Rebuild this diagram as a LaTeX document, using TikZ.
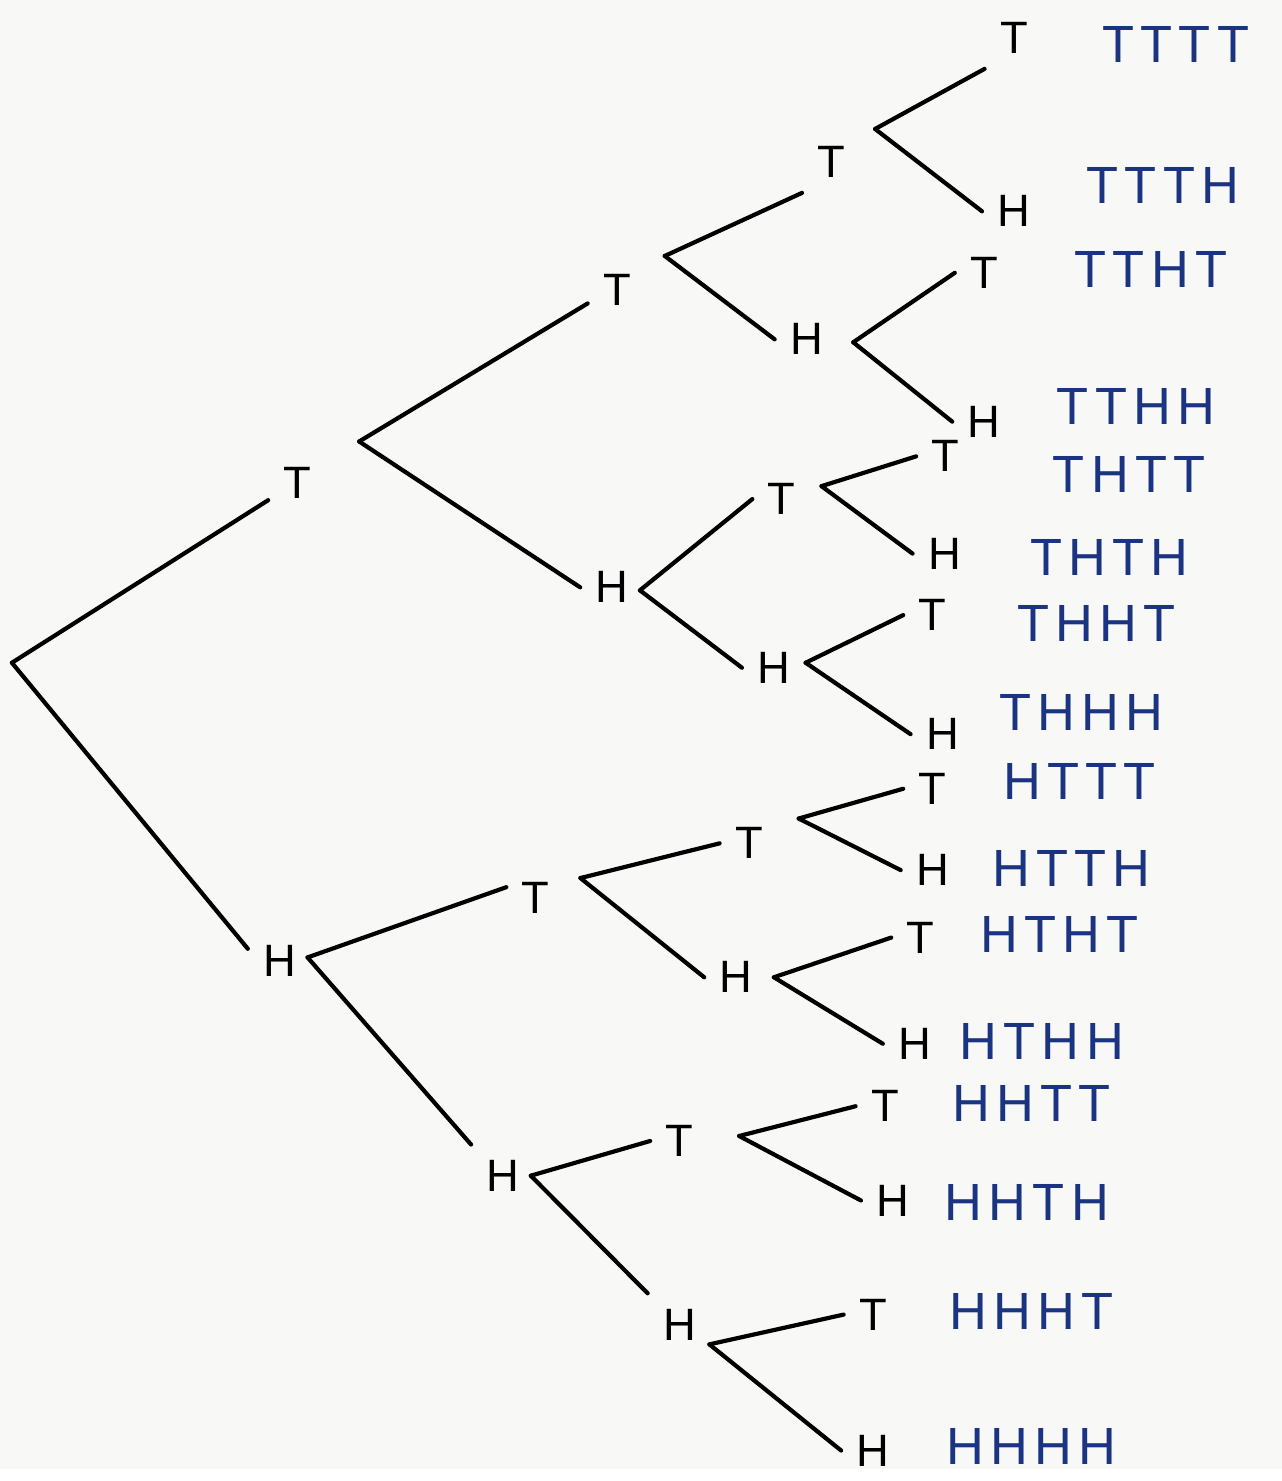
\documentclass[tikz,border=0pt]{standalone}
\usepackage{fontspec}
\setmainfont{Liberation Sans}
\newfontfamily\outfont[LetterSpace=12]{Liberation Sans}
\usepackage{tikz}
\usetikzlibrary{positioning}
\definecolor{paper}{RGB}{248, 248, 246}
\definecolor{inkblue}{RGB}{26, 52, 130}

\begin{document}
\begin{tikzpicture}[
  x=0.01cm, y=-0.01cm,
  lbl/.style={inner sep=1.5mm, font=\fontsize{13}{15}\selectfont},
  res/.style={inner sep=0pt, text=inkblue, font=\outfont\fontsize{15}{18}\selectfont},
  br/.style={line width=1.2pt, line cap=round}
]
  \fill[paper] (0,0) rectangle (1292,1481);

  % first toss
  \coordinate (s) at (12,668);
  \node[lbl] (t) at (300,487) {T};
  \node[lbl] (h) at (282,968) {H};

  % second toss
  \node[lbl] (tt) at (622,292) {T};
  \node[lbl] (th) at (617,592) {H};
  \node[lbl] (ht) at (540,905) {T};
  \node[lbl] (hh) at (507,1185) {H};

  % third toss
  \node[lbl] (ttt) at (838,163) {T};
  \node[lbl] (tth) at (813,342) {H};
  \node[lbl] (tht) at (788,503) {T};
  \node[lbl] (thh) at (780,673) {H};
  \node[lbl] (htt) at (755,850) {T};
  \node[lbl] (hth) at (742,985) {H};
  \node[lbl] (hht) at (685,1150) {T};
  \node[lbl] (hhh) at (685,1335) {H};

  % fourth toss
  \node[lbl] (tttt) at (1022,38) {T};
  \node[lbl] (ttth) at (1022,213) {H};
  \node[lbl] (ttht) at (992,275) {T};
  \node[lbl] (tthh) at (992,425) {H};
  \node[lbl] (thtt) at (953,460) {T};
  \node[lbl] (thth) at (952,558) {H};
  \node[lbl] (thht) at (940,620) {T};
  \node[lbl] (thhh) at (950,740) {H};
  \node[lbl] (httt) at (940,795) {T};
  \node[lbl] (htth) at (940,877) {H};
  \node[lbl] (htht) at (928,945) {T};
  \node[lbl] (hthh) at (922,1052) {H};
  \node[lbl] (hhtt) at (892,1115) {T};
  \node[lbl] (hhth) at (900,1210) {H};
  \node[lbl] (hhht) at (880,1325) {T};
  \node[lbl] (hhhh) at (880,1462) {H};

  % forks
  \coordinate (t-fork) at (362,445);
  \coordinate (h-fork) at (310,965);
  \coordinate (tt-fork) at (670,258);
  \coordinate (th-fork) at (645,595);
  \coordinate (ht-fork) at (585,885);
  \coordinate (hh-fork) at (535,1185);
  \coordinate (ttt-fork) at (882,130);
  \coordinate (tth-fork) at (860,345);
  \coordinate (tht-fork) at (828,490);
  \coordinate (thh-fork) at (812,668);
  \coordinate (htt-fork) at (805,825);
  \coordinate (hth-fork) at (780,985);
  \coordinate (hht-fork) at (745,1145);
  \coordinate (hhh-fork) at (715,1355);

  % outcomes
  \node[res] (r-tttt) at (1185,45) {TTTT};
  \node[res] (r-ttth) at (1172,187) {TTTH};
  \node[res] (r-ttht) at (1160,272) {TTHT};
  \node[res] (r-tthh) at (1145,410) {TTHH};
  \node[res] (r-thtt) at (1138,478) {THTT};
  \node[res] (r-thth) at (1118,562) {THTH};
  \node[res] (r-thht) at (1105,628) {THHT};
  \node[res] (r-thhh) at (1090,718) {THHH};
  \node[res] (r-httt) at (1088,788) {HTTT};
  \node[res] (r-htth) at (1080,875) {HTTH};
  \node[res] (r-htht) at (1068,942) {HTHT};
  \node[res] (r-hthh) at (1050,1050) {HTHH};
  \node[res] (r-hhtt) at (1040,1112) {HHTT};
  \node[res] (r-hhth) at (1035,1212) {HHTH};
  \node[res] (r-hhht) at (1040,1322) {HHHT};
  \node[res] (r-hhhh) at (1040,1458) {HHHH};

  % branches
  \draw[br] (s) -- (t.210);
  \draw[br] (s) -- (h.160);
  \draw[br] (t-fork) -- (tt.205);
  \draw[br] (t-fork) -- (th.west);
  \draw[br] (h-fork) -- (ht.160);
  \draw[br] (h-fork) -- (hh.north west);
  \draw[br] (tt-fork) -- (ttt.south west);
  \draw[br] (tt-fork) -- (tth.west);
  \draw[br] (th-fork) -- (tht.west);
  \draw[br] (th-fork) -- (thh.west);
  \draw[br] (ht-fork) -- (htt.west);
  \draw[br] (ht-fork) -- (hth.west);
  \draw[br] (hh-fork) -- (hht.west);
  \draw[br] (hh-fork) -- (hhh.north west);
  \draw[br] (ttt-fork) -- (tttt.south west);
  \draw[br] (ttt-fork) -- (ttth.west);
  \draw[br] (tth-fork) -- (ttht.west);
  \draw[br] (tth-fork) -- (tthh.west);
  \draw[br] (tht-fork) -- (thtt.west);
  \draw[br] (tht-fork) -- (thth.west);
  \draw[br] (thh-fork) -- (thht.west);
  \draw[br] (thh-fork) -- (thhh.west);
  \draw[br] (htt-fork) -- (httt.west);
  \draw[br] (htt-fork) -- (htth.west);
  \draw[br] (hth-fork) -- (htht.west);
  \draw[br] (hth-fork) -- (hthh.west);
  \draw[br] (hht-fork) -- (hhtt.west);
  \draw[br] (hht-fork) -- (hhth.west);
  \draw[br] (hhh-fork) -- (hhht.west);
  \draw[br] (hhh-fork) -- (hhhh.west);
\end{tikzpicture}
\end{document}
